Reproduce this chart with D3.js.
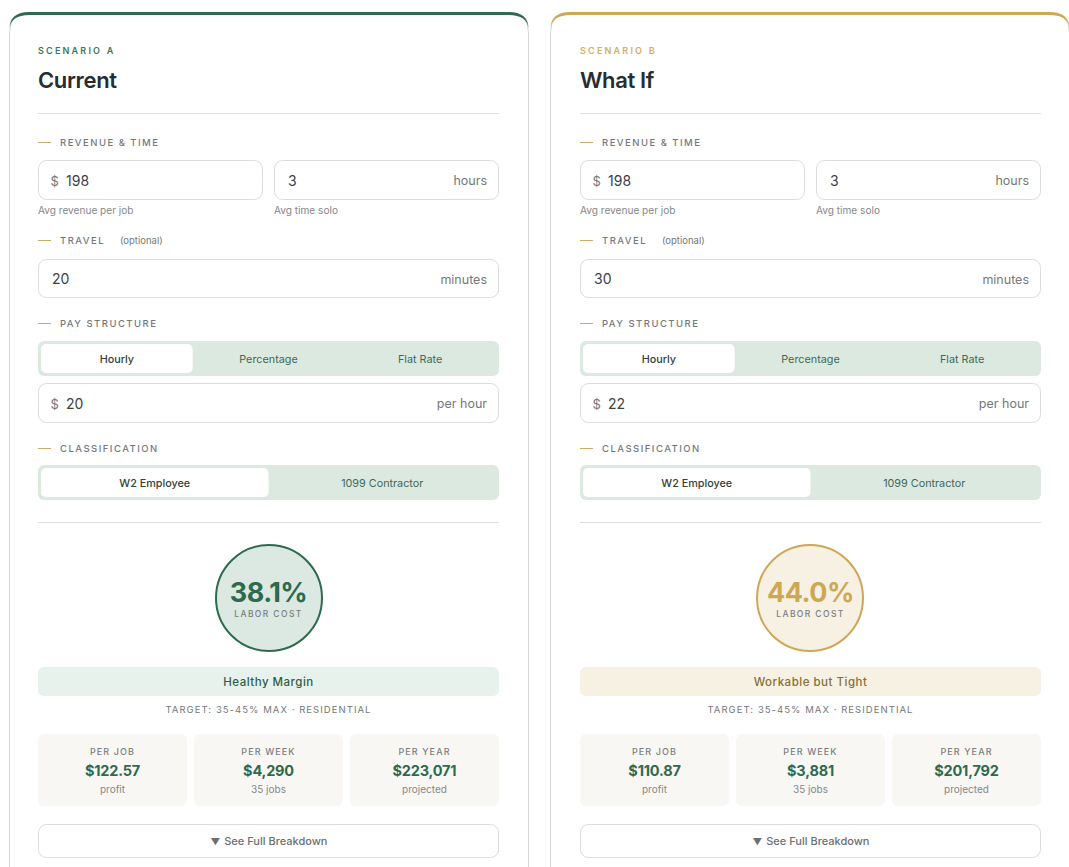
<!DOCTYPE html>
<html><head><meta charset="utf-8">
<script src="https://cdnjs.cloudflare.com/ajax/libs/d3/7.8.5/d3.min.js"></script>
<style>html,body{margin:0;padding:0;background:#fff;overflow:hidden}svg{display:block}text{font-family:Inter,"Noto Sans",sans-serif}</style>
</head><body><script>
// ---- data ----
const eyebrows = ["SCENARIO A", "SCENARIO B"];
const titles = ["Current", "What If"];
const revenue = [198, 198];
const soloHours = [3, 3];
const travelMinutes = [20, 30];
const hourlyPay = [20, 22];
const laborCost = ["38.1%", "44.0%"];
const statusText = ["Healthy Margin", "Workable but Tight"];
const perJob = ["$122.57", "$110.87"];
const perWeek = ["$4,290", "$3,881"];
const perYear = ["$223,071", "$201,792"];
const statLabels = ["PER JOB", "PER WEEK", "PER YEAR"];
const statSubs = ["profit", "35 jobs", "projected"];
const payOptions = ["Hourly", "Percentage", "Flat Rate"];
const classOptions = ["W2 Employee", "1099 Contractor"];

// ---- style ----
const accent = ["#2d6a4f", "#cfa752"];
const eyebrowInk = ["#3a7a5c", "#d2ad68"];
const ringFill = ["#dce9e2", "#f7f1e4"];
const statusFill = ["#e7f2ec", "#f7f1e4"];
const statusInk = ["#2f5d49", "#86702f"];
const W = 1069, H = 867;
const svg = d3.select("body").append("svg").attr("width", W).attr("height", H);
const panelX = d3.scaleOrdinal().domain([0, 1]).range([0, 542]);
const left = 38, right = 499;

function T(g, x, y, s, o = {}) {
  return g.append("text").attr("x", x).attr("y", y).text(s)
    .attr("font-size", o.size || 11).attr("font-weight", o.weight || 400)
    .attr("fill", o.fill || "#666").attr("text-anchor", o.anchor || "start")
    .attr("letter-spacing", o.ls || 0);
}
function section(g, y, s, extra) {
  g.append("rect").attr("x", left).attr("width", 13).attr("y", y - .5).attr("height", 1).attr("fill", "#c9ab6e");
  T(g, left + 22, y + 3.5, s, { size: 9.5, weight: 500, ls: 1.48, fill: "#75797e" });
  if (extra) T(g, 120, y + 3.5, extra, { size: 9.5, fill: "#74787c" });
}
function input(g, x0, x1, y0, y1, val, o = {}) {
  g.append("rect").attr("x", x0 + .5).attr("y", y0 + .5).attr("width", x1 - x0 - 1).attr("height", y1 - y0 - 1)
    .attr("rx", 8).attr("fill", "#fff").attr("stroke", "#dcdcdc");
  const base = (y0 + y1) / 2 + 5;
  if (o.prefix) T(g, x0 + 12.5, base + .5, "$", { size: 13, fill: "#777" });
  T(g, x0 + (o.prefix ? 28 : 14), base + .5, val, { size: 14, fill: "#3a3f44" });
  if (o.unit) T(g, x1 - 12, base, o.unit, { size: 12.5, fill: "#74787c", anchor: "end" });
}
function segmented(g, y0, y1, options) {
  g.append("rect").attr("x", left).attr("y", y0).attr("width", right - left).attr("height", y1 - y0)
    .attr("rx", 6).attr("fill", "#dce9e1");
  const band = d3.scaleBand().domain(options).range([left + 3, right - 3]);
  g.append("rect").attr("x", band(options[0])).attr("y", y0 + 3).attr("width", band.bandwidth()).attr("height", y1 - y0 - 6)
    .attr("rx", 5).attr("fill", "#fff");
  options.forEach((d, i) => T(g, band(d) + band.bandwidth() / 2, y0 + 22, d,
    { size: 10.8, weight: i ? 400 : 500, anchor: "middle", fill: i ? "#3f6a55" : "#33423a" }));
}
[0, 1].forEach(i => {
  const g = svg.append("g").attr("transform", `translate(${panelX(i)},0)`);
  // card
  const cx0 = 9.5 - i, cx1 = 528.5 - i, cy = 13, r = 20;
  g.append("path").attr("d", `M${cx0},${H + 20}V${cy + r}Q${cx0},${cy} ${cx0 + r},${cy}H${cx1 - r}Q${cx1},${cy} ${cx1},${cy + r}V${H + 20}`)
    .attr("fill", "#fff").attr("stroke", "#d6d6d6");
  g.append("path").attr("d",
    `M${cx0},${cy + r - 4}Q${cx0},${cy - 1} ${cx0 + r},${cy - 1}H${cx1 - r}Q${cx1},${cy - 1} ${cx1},${cy + r - 4}Q${cx1 - 1},${cy + 2} ${cx1 - r},${cy + 2}H${cx0 + r}Q${cx0 + 1},${cy + 2} ${cx0},${cy + r - 4}Z`)
    .attr("fill", accent[i]);
  // header
  T(g, left, 54, eyebrows[i], { size: 9, weight: 600, ls: 2.2, fill: eyebrowInk[i] });
  T(g, left, 88, titles[i], { size: 22, weight: 600, fill: "#272c32", ls: -0.35 });
  g.append("line").attr("x1", left).attr("x2", right).attr("y1", 113.5).attr("y2", 113.5).attr("stroke", "#dedede");
  // revenue & time
  section(g, 142.5, "REVENUE & TIME");
  input(g, left, 263, 160, 200, revenue[i], { prefix: true });
  input(g, 274, right, 160, 200, soloHours[i], { unit: "hours" });
  T(g, left, 214, "Avg revenue per job", { size: 10.1, fill: "#85888c" });
  T(g, 274, 214, "Avg time solo", { size: 10.1, fill: "#85888c" });
  // travel
  section(g, 240.5, "TRAVEL", "(optional)");
  input(g, left, right, 259, 298, travelMinutes[i], { unit: "minutes" });
  // pay
  section(g, 323.5, "PAY STRUCTURE");
  segmented(g, 341, 376, payOptions);
  input(g, left, right, 383, 423, hourlyPay[i], { prefix: true, unit: "per hour" });
  // classification
  section(g, 448.5, "CLASSIFICATION");
  segmented(g, 465, 500, classOptions);
  g.append("line").attr("x1", left).attr("x2", right).attr("y1", 522.5).attr("y2", 522.5).attr("stroke", "#dedede");
  // gauge
  const mid = (left + right) / 2;
  g.append("circle").attr("cx", mid + .5 - i).attr("cy", 598).attr("r", 53).attr("fill", ringFill[i]).attr("stroke", accent[i]).attr("stroke-width", 2);
  T(g, mid, 602, laborCost[i], { size: 27, weight: 700, fill: accent[i], anchor: "middle", ls: -0.5 });
  T(g, mid, 617, "LABOR COST", { size: 8.5, weight: 500, ls: 1.4, fill: "#7a7e82", anchor: "middle" });
  // status
  g.append("rect").attr("x", left).attr("y", 667).attr("width", right - left).attr("height", 29).attr("rx", 6).attr("fill", statusFill[i]);
  T(g, mid, 686, statusText[i], { size: 11.5, weight: 500, ls: 0.5, fill: statusInk[i], anchor: "middle" });
  T(g, mid, 713, "TARGET: 35-45% MAX · RESIDENTIAL", { size: 9.5, ls: 1.05, fill: "#74787c", anchor: "middle" });
  // stats
  const statVals = [perJob[i], perWeek[i], perYear[i]];
  const sb = d3.scaleBand().domain(statLabels).range([left, right]).paddingInner(0.045).paddingOuter(0);
  statLabels.forEach((lab, k) => {
    const x = sb(lab), w = sb.bandwidth(), c = x + w / 2;
    g.append("rect").attr("x", x).attr("y", 734).attr("width", w).attr("height", 72).attr("rx", 6).attr("fill", "#f8f7f4");
    T(g, c, 755, lab, { size: 9, weight: 500, ls: 1.1, fill: "#7a7e82", anchor: "middle" });
    T(g, c, 776, statVals[k], { size: 14.5, weight: 700, fill: "#2d6a4f", anchor: "middle", ls: -0.2 });
    T(g, c, 793, statSubs[k], { size: 10, fill: "#85888c", anchor: "middle" });
  });
  // button
  g.append("rect").attr("x", left + .5).attr("y", 824.5).attr("width", right - left - 1).attr("height", 33).attr("rx", 8).attr("fill", "#fff").attr("stroke", "#dcdcdc");
  const b = T(g, mid + .5, 845, "", { size: 11, weight: 500, fill: "#6b6f74", anchor: "middle" });
  b.append("tspan").attr("font-size", 9.5).text("▼");
  b.append("tspan").attr("dx", 1).text(" See Full Breakdown");
});
</script></body></html>
